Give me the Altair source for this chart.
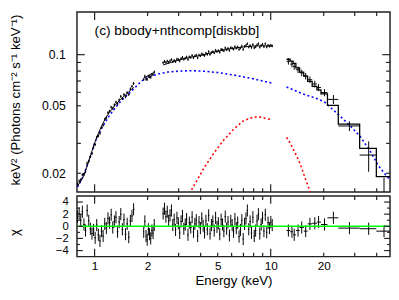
import altair as alt
import numpy as np
import pandas as pd

FONT = "Liberation Sans"
FRAME = "#222222"

# ---------------- low-energy band: three segments (data + chi) ----------------
seg1_E = [0.800, 0.817, 0.834, 0.852, 0.870, 0.888, 0.907, 0.926, 0.946, 0.966, 0.986, 1.007,
          1.028, 1.050, 1.072, 1.095, 1.118, 1.142, 1.166, 1.191, 1.216, 1.242, 1.268, 1.295,
          1.322, 1.350, 1.379, 1.408, 1.438, 1.468, 1.499, 1.531, 1.563, 1.596, 1.630, 1.665]
seg1_F = [0.0173, 0.0180, 0.0183, 0.0196, 0.0197, 0.0204, 0.0229, 0.0236, 0.0251, 0.0261, 0.0285,
          0.0295, 0.0326, 0.0333, 0.0344, 0.0373, 0.0384, 0.0416, 0.0426, 0.0455, 0.0464, 0.0490,
          0.0483, 0.0506, 0.0525, 0.0513, 0.0541, 0.0568, 0.0551, 0.0582, 0.0565, 0.0597, 0.0583,
          0.0628, 0.0651, 0.0677]
seg1_chi = [1.6, 2.1, 1.0, 2.4, 0.3, -0.7, 2.6, 0.9, -0.4, -1.2, -0.6, -1.9, 0.2, -1.4, -2.4,
            -0.8, -1.6, 0.4, -0.3, 1.3, 0.6, 1.9, -0.2, 0.8, 1.5, -0.9, 0.7, 2.0, -0.5, 1.1,
            -1.3, 0.4, -1.8, 0.9, 1.7, 2.8]

seg2_E = [1.900, 1.929, 1.959, 1.989, 2.020, 2.051, 2.083, 2.115, 2.148, 2.181]
seg2_F = [0.0715, 0.0747, 0.0717, 0.0715, 0.0746, 0.0741, 0.0736, 0.0763, 0.0763, 0.0790]
seg2_chi = [-0.9, 0.8, -1.6, -2.2, -0.5, -1.3, -2.0, -0.7, -1.1, 0.2]

seg3_E = [2.450, 2.495, 2.540, 2.586, 2.633, 2.681, 2.730, 2.780, 2.830, 2.882, 2.934, 2.988,
          3.042, 3.097, 3.154, 3.211, 3.270, 3.329, 3.390, 3.452, 3.515, 3.579, 3.644, 3.710,
          3.778, 3.847, 3.917, 3.988, 4.061, 4.135, 4.210, 4.287, 4.365, 4.444, 4.525, 4.608,
          4.692, 4.777, 4.864, 4.953, 5.043, 5.135, 5.229, 5.324, 5.421, 5.520, 5.620, 5.723,
          5.827, 5.933, 6.041, 6.151, 6.263, 6.377, 6.494, 6.612, 6.732, 6.855, 6.980, 7.107,
          7.237, 7.369, 7.503, 7.640, 7.779, 7.921, 8.065, 8.212, 8.362, 8.514, 8.669, 8.827,
          8.988, 9.152, 9.319, 9.489, 9.661, 9.837, 10.017, 10.200]
seg3_F = [0.0897, 0.0913, 0.0901, 0.0917, 0.0902, 0.0919, 0.0936, 0.0909, 0.0926, 0.0909, 0.0942,
          0.0936, 0.0918, 0.0948, 0.0965, 0.0939, 0.0953, 0.0970, 0.0937, 0.0971, 0.0963, 0.0991,
          0.0959, 0.0982, 0.0994, 0.0958, 0.0996, 0.0985, 0.1013, 0.0999, 0.0988, 0.1021, 0.1004,
          0.1044, 0.1003, 0.1029, 0.1043, 0.1024, 0.1062, 0.1043, 0.1058, 0.1033, 0.1075, 0.1067,
          0.1054, 0.1097, 0.1068, 0.1089, 0.1058, 0.1101, 0.1092, 0.1077, 0.1114, 0.1092, 0.1110,
          0.1074, 0.1095, 0.1124, 0.1075, 0.1119, 0.1136, 0.1160, 0.1110, 0.1133, 0.1103, 0.1148,
          0.1097, 0.1113, 0.1141, 0.1161, 0.1107, 0.1133, 0.1152, 0.1114, 0.1160, 0.1110, 0.1136,
          0.1121, 0.1137, 0.1127]
seg3_chi = [2.1, 2.9, 1.6, 2.4, 0.9, 1.8, 2.6, 0.2, 1.1, -0.6, 1.4, 0.5,
            -1.1, 0.8, 1.7, -0.4, 0.3, 1.2, -1.4, 0.6, -0.2, 1.5, -0.9, 0.4, 1.0, -1.6,
            0.7, -0.3, 1.3, 0.1, -1.0, 0.9, -0.5, 1.8, -1.2, 0.2, 0.8, -0.7, 1.4, -0.1,
            0.5, -1.3, 1.1, 0.3, -0.8, 1.6, -0.4, 0.7, -1.5, 0.9,
            0.2, -0.9, 1.2, -0.3, 0.6, -1.7, -0.6, 1.0, -2.1,
            0.4, 1.3, 2.6, -0.5, 0.8, -1.1, 1.5,
            -1.6, -0.7, 0.9, 2.0, -1.2, 0.3, 1.4,
            -0.8, 1.9, -1.0, 0.6, -0.3,
            0.7, 0.2]
seg_err_frac = [0.02, 0.02, 0.018]

# model curve over the low band (one list per segment)
mod1_E = [0.80, 0.83, 0.86, 0.89, 0.92, 0.95, 0.98, 1.01, 1.05, 1.09, 1.13, 1.17, 1.21, 1.25,
          1.30, 1.35, 1.40, 1.45, 1.50, 1.56, 1.62, 1.67]
mod1_M = [0.0168, 0.0178, 0.0190, 0.0208, 0.0230, 0.0256, 0.0283, 0.0310, 0.0343, 0.0375, 0.0405,
          0.0432, 0.0455, 0.0476, 0.0500, 0.0522, 0.0543, 0.0562, 0.0580, 0.0603, 0.0624, 0.0642]
mod2_E = [1.90, 2.18]
mod2_M = [0.0728, 0.0787]
mod3_E = [2.45, 3.0, 3.5, 4.0, 4.5, 5.0, 5.5, 6.0, 6.5, 7.0, 7.5, 8.0, 8.5, 9.0, 9.5, 10.2]
mod3_M = [0.0870, 0.0930, 0.0965, 0.0990, 0.1020, 0.1048, 0.1070, 0.1088, 0.1100, 0.1110,
          0.1118, 0.1124, 0.1127, 0.1128, 0.1127, 0.1124]

# ---------------- high-energy band ----------------
hi_E = [12.6, 13.2, 13.6, 14.3, 15.0, 15.8, 16.7, 17.8, 18.7, 20.2, 22.7, 28.0, 36.0, 44.0]
hi_lo = [12.3, 12.9, 13.4, 13.9, 14.6, 15.4, 16.2, 17.2, 18.3, 19.3, 21.0, 24.2, 32.0, 39.8]
hi_hi = [12.9, 13.4, 13.9, 14.6, 15.4, 16.2, 17.2, 18.3, 19.3, 21.0, 24.2, 32.0, 39.8, 48.5]
hi_F = [0.0914, 0.0880, 0.0852, 0.0815, 0.0782, 0.0748, 0.0712, 0.0672, 0.0640, 0.0598,
        0.0545, 0.0380, 0.0256, 0.0135]
hi_err = [0.0040, 0.0038, 0.0037, 0.0036, 0.0034, 0.0033, 0.0032, 0.0031, 0.0030, 0.0029,
          0.0033, 0.0025, 0.0052, 0.0053]
hi_M = [0.0940, 0.0915, 0.0890, 0.0835, 0.0790, 0.0748, 0.0697, 0.0650, 0.0620, 0.0588,
        0.0502, 0.0390, 0.0280, 0.0191]
hi_chi = [-0.7, -0.9, -1.4, -0.7, -0.2, -0.8, 0.4, 0.5, 0.7, 0.3, 1.4, -0.3, -0.4, -0.8]

# ---------------- model components ----------------
blue_lo_E = [0.80, 0.85, 0.90, 0.95, 1.0, 1.1, 1.2, 1.3, 1.4, 1.5, 1.67, 1.85, 2.0, 2.3, 2.6,
             3.0, 3.4, 4.0, 5.0, 6.4, 8.0, 10.2]
blue_lo_F = [0.0166, 0.0186, 0.0218, 0.0253, 0.0302, 0.0370, 0.0430, 0.0482, 0.0528, 0.0567,
             0.0630, 0.0700, 0.0735, 0.0770, 0.0790, 0.0800, 0.0804, 0.0802, 0.0785, 0.0754,
             0.0720, 0.0680]
blue_hi_E = [12.3, 12.6, 15.6, 18.0, 20.2, 22.9, 25.5, 29.0, 32.4, 36.8, 40.8, 45.0, 48.5]
blue_hi_F = [0.0645, 0.0638, 0.0582, 0.0555, 0.0526, 0.0468, 0.0422, 0.0371, 0.0327, 0.0269,
             0.0222, 0.0195, 0.0180]
red_lo_E = [3.3, 3.5, 3.83, 4.19, 4.76, 5.41, 6.14, 6.98, 7.93, 8.6, 9.76, 10.2]
red_lo_F = [0.0135, 0.0155, 0.0183, 0.0216, 0.0263, 0.0314, 0.0362, 0.0407, 0.0428, 0.0430,
            0.0417, 0.0410]
red_hi_E = [12.3, 12.6, 13.8, 14.7, 15.6, 16.7, 17.3]
red_hi_F = [0.0325, 0.0314, 0.0262, 0.0228, 0.0190, 0.0157, 0.0140]

x_labels = [1, 2, 5, 10, 20]
x_major = [1, 10]
x_minor = [2, 3, 4, 5, 6, 7, 8, 9, 20, 30, 40]
y1_labels = [0.02, 0.05, 0.1]
y1_major = [0.1]
y1_minor = [0.02, 0.03, 0.04, 0.05, 0.06, 0.07, 0.08, 0.09]
y2_labels = [-4, -2, 0, 2, 4]
y2_minor = [-3, -1, 1, 3]

# ---------------- tables ----------------
def bin_edges(E):
    E = np.asarray(E, dtype=float)
    mids = np.sqrt(E[1:] * E[:-1])
    lo = np.concatenate([[E[0] ** 2 / mids[0]], mids])
    hi = np.concatenate([mids, [E[-1] ** 2 / mids[-1]]])
    return lo, hi

rows = []
for k, (E, F, C) in enumerate([(seg1_E, seg1_F, seg1_chi),
                               (seg2_E, seg2_F, seg2_chi),
                               (seg3_E, seg3_F, seg3_chi)]):
    lo, hi = bin_edges(E)
    for i in range(len(E)):
        err = F[i] * seg_err_frac[k]
        rows.append(dict(seg=k, E=E[i], lo=lo[i], hi=hi[i], F=F[i],
                         Flo=F[i] - err, Fhi=F[i] + err, chi=C[i]))
for i in range(len(hi_E)):
    rows.append(dict(seg=3, E=hi_E[i], lo=hi_lo[i], hi=hi_hi[i], F=hi_F[i],
                     Flo=hi_F[i] - hi_err[i], Fhi=hi_F[i] + hi_err[i], chi=hi_chi[i]))
data = pd.DataFrame(rows)
data["clo"] = data["chi"] - 1
data["chi_hi"] = data["chi"] + 1

lo_model = pd.concat([
    pd.DataFrame({"E": mod1_E, "M": mod1_M, "seg": 0}),
    pd.DataFrame({"E": mod2_E, "M": mod2_M, "seg": 1}),
    pd.DataFrame({"E": mod3_E, "M": mod3_M, "seg": 2}),
])
step = pd.DataFrame({"E": hi_lo + [hi_hi[-1]], "M": hi_M + [hi_M[-1]]})

comp = pd.concat([
    pd.DataFrame({"E": blue_lo_E, "F": blue_lo_F, "piece": "b1", "c": "#0000ff"}),
    pd.DataFrame({"E": blue_hi_E, "F": blue_hi_F, "piece": "b2", "c": "#0000ff"}),
    pd.DataFrame({"E": red_lo_E, "F": red_lo_F, "piece": "r1", "c": "#ff0000"}),
    pd.DataFrame({"E": red_hi_E, "F": red_hi_F, "piece": "r2", "c": "#ff0000"}),
])

# ---------------- scales / axes ----------------
W, H1, H2 = 320, 184, 62
xs = alt.Scale(type="log", domain=[0.794, 47.6], nice=False)
y1s = alt.Scale(type="log", domain=[0.01549, 0.1784], nice=False)
y2s = alt.Scale(domain=[-5, 5], nice=False, zero=False)

common = dict(ticks=False, tickSize=0, domain=False, grid=False, labelColor="black",
              titleColor="black", labelFont=FONT, titleFont=FONT, titleFontWeight="normal",
              labelOverlap=False)
ax_y1 = alt.Axis(values=y1_labels, format="~g", title="keV² (Photons cm⁻² s⁻¹ keV⁻¹)",
                 labelPadding=12, labelFontSize=12.5, titleFontSize=13.5,
                 titleX=-56, titleY=89.5, titleAngle=-90, titleBaseline="bottom",
                 titleAlign="center", **common)
ax_y2 = alt.Axis(values=y2_labels, format="~g", title="χ", labelPadding=9,
                 labelFontSize=11.5, titleFontSize=13.5, titleX=-57, titleY=37,
                 titleAngle=-90, titleBaseline="bottom", titleAlign="center", **common)
ax_x2 = alt.Axis(values=x_labels, format="~g", title="Energy (keV)", labelPadding=4,
                 titlePadding=2, labelFontSize=12, titleFontSize=13.5, labelFlush=False,
                 **common)


def ticks(vals, side, length, H, xaxis, yaxis, yscale):
    df = pd.DataFrame({"t": vals})
    base = alt.Chart(df).mark_rule(color=FRAME, strokeWidth=1.2)
    if side in ("top", "bottom"):
        enc = dict(x=alt.X("t:Q", scale=xs, axis=xaxis))
        if side == "top":
            enc.update(y=alt.value(0), y2=alt.value(length))
        else:
            enc.update(y=alt.value(H - length), y2=alt.value(H))
    else:
        enc = dict(y=alt.Y("t:Q", scale=yscale, axis=yaxis))
        if side == "left":
            enc.update(x=alt.value(0), x2=alt.value(length))
        else:
            enc.update(x=alt.value(W - length), x2=alt.value(W))
    return base.encode(**enc)


def tick_layers(H, xaxis, yaxis, yscale, ymaj, ymin, ymaj_len, ymin_len):
    out = []
    for side in ("top", "bottom"):
        out.append(ticks(x_major, side, 8, H, xaxis, yaxis, yscale))
        out.append(ticks(x_minor, side, 4, H, xaxis, yaxis, yscale))
    for side in ("left", "right"):
        out.append(ticks(ymaj, side, ymaj_len, H, xaxis, yaxis, yscale))
        out.append(ticks(ymin, side, ymin_len, H, xaxis, yaxis, yscale))
    return out

# ---------------- top panel ----------------
X1 = lambda f: alt.X(f, scale=xs, axis=None)
Y1 = lambda f: alt.Y(f, scale=y1s, axis=ax_y1)

comp_lines = alt.Chart(comp).mark_line(strokeDash=[2, 2.6], strokeWidth=1.6, clip=True).encode(
    x=X1("E:Q"), y=Y1("F:Q"), detail="piece:N",
    color=alt.Color("c:N", scale=None))
model_lo = alt.Chart(lo_model).mark_line(color="black", strokeWidth=1, clip=True).encode(
    x=X1("E:Q"), y=Y1("M:Q"), detail="seg:N")
model_hi = alt.Chart(step).mark_line(color="black", strokeWidth=1.3, interpolate="step-after",
                                     clip=True).encode(x=X1("E:Q"), y=Y1("M:Q"))
err_v = alt.Chart(data).mark_rule(color="black", strokeWidth=1, clip=True).encode(
    x=X1("E:Q"), y=Y1("Flo:Q"), y2="Fhi:Q")
err_h = alt.Chart(data).mark_rule(color="black", strokeWidth=1, clip=True).encode(
    x=X1("lo:Q"), x2="hi:Q", y=Y1("F:Q"))
label = alt.Chart(pd.DataFrame({"E": [1.0], "F": [0.1379], "t": ["(c) bbody+nthcomp[diskbb]"]})
                  ).mark_text(align="left", baseline="middle", fontSize=14, font=FONT,
                              color="black").encode(x=X1("E:Q"), y=Y1("F:Q"), text="t:N")

top = alt.layer(comp_lines, model_lo, model_hi, err_v, err_h, label,
                *tick_layers(H1, None, ax_y1, y1s, y1_major, y1_minor, 8, 4)
                ).properties(width=W, height=H1)

# ---------------- bottom panel ----------------
X2 = lambda f: alt.X(f, scale=xs, axis=ax_x2)
Y2 = lambda f: alt.Y(f, scale=y2s, axis=ax_y2)

res_v = alt.Chart(data).mark_rule(color="black", strokeWidth=1, clip=True).encode(
    x=X2("E:Q"), y=Y2("clo:Q"), y2="chi_hi:Q")
res_h = alt.Chart(data).mark_rule(color="black", strokeWidth=1, clip=True).encode(
    x=X2("lo:Q"), x2="hi:Q", y=Y2("chi:Q"))
zero = alt.Chart(pd.DataFrame({"z": [0]})).mark_rule(color="#00ff00", strokeWidth=1.6).encode(
    y=Y2("z:Q"))

bottom = alt.layer(res_v, res_h, zero,
                   *tick_layers(H2, ax_x2, ax_y2, y2s, y2_labels, y2_minor, 6, 3)
                   ).properties(width=W, height=H2)

chart = alt.vconcat(top, bottom, spacing=0).properties(
    padding={"left": -1.5, "top": -1, "right": -1, "bottom": 0}
).configure_view(stroke=FRAME, strokeWidth=1.5).configure_concat(spacing=0)

chart.save("out.html", embed_options={"renderer": "svg", "actions": False})
